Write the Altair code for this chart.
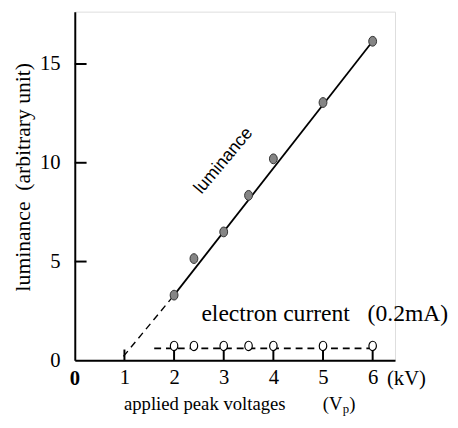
import altair as alt
import pandas as pd

# ---- data ----
voltage = [2, 2.4, 3, 3.5, 4, 5, 6]
luminance = [3.3, 5.15, 6.5, 8.35, 10.2, 13.05, 16.15]
current_voltage = [2, 2.4, 3, 3.5, 4, 5, 6]
current_level = [0.73, 0.73, 0.73, 0.73, 0.73, 0.73, 0.73]
fit_solid_v = [2, 6]
fit_solid_l = [3.3, 16.15]
fit_dash_v = [0.98, 2]
fit_dash_l = [0.2, 3.3]
current_line_v = [1.6, 6.0]
current_line_l = [0.6, 0.6]
x_ticks = [1, 2, 3, 4, 5, 6]
y_ticks = [0, 5, 10, 15]
y_inner_ticks = [5, 10, 15]

W, H = 326, 355
SERIF = "Liberation Serif"
SANS = "Liberation Sans"
ELL = "M0,-1 A0.8,1 0 1,1 0,1 A0.8,1 0 1,1 0,-1 Z"

xs = alt.Scale(domain=[0, 6.45], nice=False, zero=False)
ys = alt.Scale(domain=[0, 17.65], nice=False, zero=False)
xaxis = alt.Axis(values=x_ticks, ticks=False, grid=False, domainColor="black",
                 domainWidth=2, labelFont=SERIF, labelFontSize=21, labelColor="black",
                 labelPadding=7, title=None, labelFlush=False, labelOverlap=False)
yaxis = alt.Axis(values=y_ticks, ticks=False, grid=False, domainColor="black",
                 domainWidth=2, labelFont=SERIF, labelFontSize=21, labelColor="black",
                 labelPadding=15, title=None, labelFlush=False, labelOverlap=False)


def X(f):
    return alt.X(f, type="quantitative", scale=xs, axis=xaxis)


def Y(f):
    return alt.Y(f, type="quantitative", scale=ys, axis=yaxis)


pts = pd.DataFrame({"v": voltage, "l": luminance})
cur = pd.DataFrame({"v": current_voltage, "l": current_level})
solid = pd.DataFrame({"v": fit_solid_v, "l": fit_solid_l})
dash = pd.DataFrame({"v": fit_dash_v, "l": fit_dash_l})
cline = pd.DataFrame({"v": current_line_v, "l": current_line_l})
xt = pd.DataFrame({"v": x_ticks})
yt = pd.DataFrame({"l": y_inner_ticks})

layers = []
layers.append(alt.Chart(dash).mark_line(color="black", strokeWidth=1.4, strokeDash=[7, 5])
              .encode(x=X("v"), y=Y("l")))
layers.append(alt.Chart(solid).mark_line(color="black", strokeWidth=1.8)
              .encode(x=X("v"), y=Y("l")))
layers.append(alt.Chart(cline).mark_line(color="black", strokeWidth=1.8, strokeDash=[7, 5])
              .encode(x=X("v"), y=Y("l")))
layers.append(alt.Chart(yt).mark_rule(color="black", strokeWidth=2)
              .encode(y=Y("l"), x=alt.value(0), x2=alt.value(12)))
layers.append(alt.Chart(xt).mark_rule(color="black", strokeWidth=2)
              .encode(x=X("v"), y=alt.value(H), y2=alt.value(H - 11)))
layers.append(alt.Chart(cur).mark_point(shape=ELL, filled=True, fill="white", stroke="black",
                                        strokeWidth=1.2, size=90, opacity=1)
              .encode(x=X("v"), y=Y("l")))
layers.append(alt.Chart(pts).mark_point(shape=ELL, filled=True, fill="#858585", stroke="#333333",
                                        strokeWidth=1, size=100, opacity=1)
              .encode(x=X("v"), y=Y("l")))


def label(text, x, y, size=20, font=SERIF, align="left", baseline="alphabetic",
          weight="normal", angle=0):
    df = pd.DataFrame({"x": [x], "y": [y], "t": [text]})
    kw = dict(font=font, fontSize=size, align=align, baseline=baseline,
              fontWeight=weight, color="black")
    if angle:
        kw["angle"] = angle
    return alt.Chart(df).mark_text(**kw).encode(x=X("x"), y=Y("y"), text="t:N")


layers.append(label("0", 0.0, -0.4, size=21, baseline="top", align="center", weight="bold"))
layers.append(label("(kV)", 6.68, -0.4, size=21, baseline="top", align="center"))
layers.append(label("applied peak voltages", 0.99, -2.5, size=19))
layers.append(label("(V", 5.39, -2.5, size=19, align="right"))
layers.append(label("p", 5.40, -2.65, size=13))
layers.append(label(")", 5.53, -2.5, size=19))
layers.append(label("luminance\u00a0\u00a0(arbitrary unit)", -1.05, 9.27, size=22,
                    align="center", baseline="middle", angle=270))
layers.append(label("electron current", 2.55, 2.0, size=24))
layers.append(label("(0.2mA)", 7.52, 2.0, size=24, align="right"))
layers.append(label("luminance", 3.0, 10.1, size=18, font=SANS, align="center",
                    baseline="middle", angle=310))

chart = alt.layer(*layers).properties(
    width=W, height=H,
    autosize=alt.AutoSizeParams(type="none"),
    padding={"left": 68, "top": 0, "right": 56, "bottom": 55},
).configure_view(stroke=None).configure(background="white")

chart.save("out.html", embed_options={"renderer": "svg", "actions": False})
